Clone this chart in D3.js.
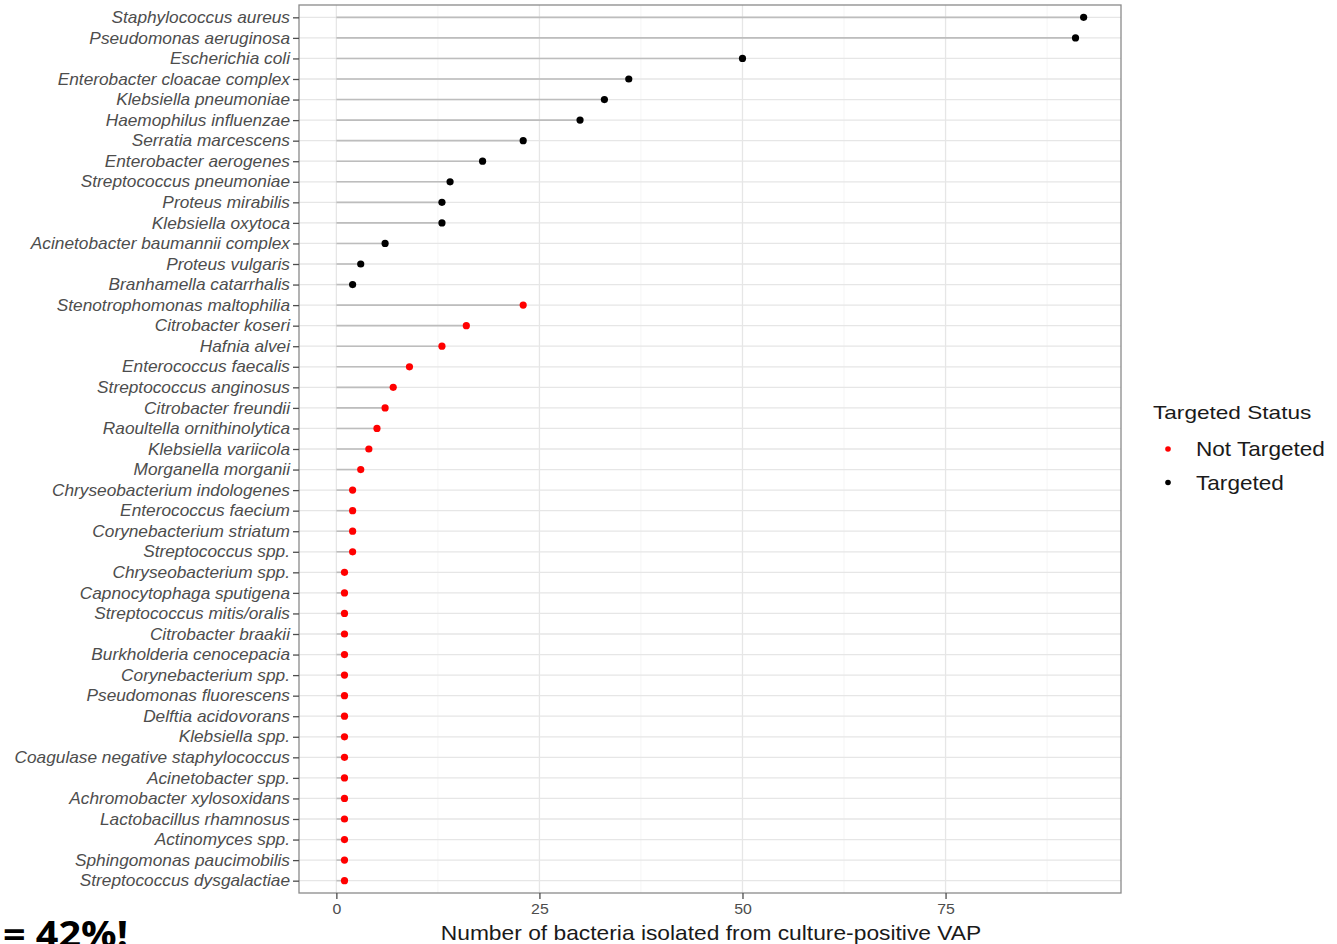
<!DOCTYPE html>
<html>
<head>
<meta charset="utf-8">
<script src="https://cdn.jsdelivr.net/npm/d3@7"></script>
<style>
  html, body { margin: 0; padding: 0; background: #fff; }
  svg { display: block; }
</style>
</head>
<body>
<svg id="chart" width="1337" height="944"></svg>
<script>
// Species, ordered top to bottom
const species = [
  "Staphylococcus aureus", "Pseudomonas aeruginosa", "Escherichia coli",
  "Enterobacter cloacae complex", "Klebsiella pneumoniae", "Haemophilus influenzae",
  "Serratia marcescens", "Enterobacter aerogenes", "Streptococcus pneumoniae",
  "Proteus mirabilis", "Klebsiella oxytoca", "Acinetobacter baumannii complex",
  "Proteus vulgaris", "Branhamella catarrhalis", "Stenotrophomonas maltophilia",
  "Citrobacter koseri", "Hafnia alvei", "Enterococcus faecalis",
  "Streptococcus anginosus", "Citrobacter freundii", "Raoultella ornithinolytica",
  "Klebsiella variicola", "Morganella morganii", "Chryseobacterium indologenes",
  "Enterococcus faecium", "Corynebacterium striatum", "Streptococcus spp.",
  "Chryseobacterium spp.", "Capnocytophaga sputigena", "Streptococcus mitis/oralis",
  "Citrobacter braakii", "Burkholderia cenocepacia", "Corynebacterium spp.",
  "Pseudomonas fluorescens", "Delftia acidovorans", "Klebsiella spp.",
  "Coagulase negative staphylococcus", "Acinetobacter spp.", "Achromobacter xylosoxidans",
  "Lactobacillus rhamnosus", "Actinomyces spp.", "Sphingomonas paucimobilis",
  "Streptococcus dysgalactiae"
];

// Number of isolates per species
const counts = [
  92, 91, 50, 36, 33, 30, 23, 18, 14, 13, 13, 6, 3, 2,
  23, 16, 13, 9, 7, 6, 5, 4, 3, 2, 2, 2, 2,
  1, 1, 1, 1, 1, 1, 1, 1, 1, 1, 1, 1, 1, 1, 1, 1
];

// Targeted status per species
const status = [
  "Targeted", "Targeted", "Targeted", "Targeted", "Targeted", "Targeted", "Targeted",
  "Targeted", "Targeted", "Targeted", "Targeted", "Targeted", "Targeted", "Targeted",
  "Not Targeted", "Not Targeted", "Not Targeted", "Not Targeted", "Not Targeted",
  "Not Targeted", "Not Targeted", "Not Targeted", "Not Targeted", "Not Targeted",
  "Not Targeted", "Not Targeted", "Not Targeted", "Not Targeted", "Not Targeted",
  "Not Targeted", "Not Targeted", "Not Targeted", "Not Targeted", "Not Targeted",
  "Not Targeted", "Not Targeted", "Not Targeted", "Not Targeted", "Not Targeted",
  "Not Targeted", "Not Targeted", "Not Targeted", "Not Targeted"
];

const statusLevels = ["Not Targeted", "Targeted"];
const statusColors = ["#ff0000", "#000000"];
const xTicks = [0, 25, 50, 75];
const xMinorTicks = [12.5, 37.5, 62.5, 87.5];
const xTitle = "Number of bacteria isolated from culture-positive VAP";
const legendTitle = "Targeted Status";
const footnote = "= 42%!";

const rows = species.map((s, i) => ({ name: s, value: counts[i], status: status[i] }));

const svg = d3.select("#chart");
const panel = { left: 299, right: 1121, top: 5, bottom: 893 };
const font = "'Liberation Sans', Arial, Helvetica, sans-serif";

// Widen text horizontally around its anchor point
function stretch(sel, k) {
  sel.attr("transform", function () {
    const ax = +this.getAttribute("x") || 0;
    return `translate(${ax},0) scale(${k},1) translate(${-ax},0)`;
  });
}

const maxVal = d3.max(counts);
const pad = maxVal * 0.05;
const x = d3.scaleLinear().domain([-pad, maxVal + pad]).range([panel.left, panel.right]);
const y = d3.scalePoint().domain(species).range([panel.top, panel.bottom]).padding(0.6);
const color = d3.scaleOrdinal().domain(statusLevels).range(statusColors);

// Grid
const grid = svg.append("g");
grid.selectAll("line.minor").data(xMinorTicks).join("line")
  .attr("x1", d => x(d)).attr("x2", d => x(d))
  .attr("y1", panel.top).attr("y2", panel.bottom)
  .attr("stroke", "#f2f2f2").attr("stroke-width", 0.8);
grid.selectAll("line.majx").data(xTicks).join("line")
  .attr("x1", d => x(d)).attr("x2", d => x(d))
  .attr("y1", panel.top).attr("y2", panel.bottom)
  .attr("stroke", "#e6e6e6").attr("stroke-width", 1.3);
grid.selectAll("line.majy").data(species).join("line")
  .attr("x1", panel.left).attr("x2", panel.right)
  .attr("y1", d => y(d)).attr("y2", d => y(d))
  .attr("stroke", "#e6e6e6").attr("stroke-width", 1.3);

// Lollipop stems
svg.append("g").selectAll("line").data(rows).join("line")
  .attr("x1", x(0)).attr("x2", d => x(d.value))
  .attr("y1", d => y(d.name)).attr("y2", d => y(d.name))
  .attr("stroke", "#bdbdbd").attr("stroke-width", 1.6);

// Points
svg.append("g").selectAll("circle").data(rows).join("circle")
  .attr("cx", d => x(d.value)).attr("cy", d => y(d.name))
  .attr("r", 3.6).attr("fill", d => color(d.status));

// Panel border
svg.append("rect")
  .attr("x", panel.left).attr("y", panel.top)
  .attr("width", panel.right - panel.left).attr("height", panel.bottom - panel.top)
  .attr("fill", "none").attr("stroke", "#8a8a8a").attr("stroke-width", 1.3);

// Y axis
const yAxis = svg.append("g")
  .attr("transform", `translate(${panel.left},0)`)
  .call(d3.axisLeft(y).tickSize(6).tickPadding(3));
yAxis.select(".domain").remove();
yAxis.selectAll(".tick line").attr("stroke", "#4d4d4d").attr("stroke-width", 1.3);
yAxis.selectAll(".tick text")
  .attr("fill", "#4d4d4d").style("font-family", font)
  .style("font-size", "16px").style("font-style", "italic")
  .call(stretch, 1.08);

// X axis
const xAxis = svg.append("g")
  .attr("transform", `translate(0,${panel.bottom})`)
  .call(d3.axisBottom(x).tickValues(xTicks).tickSize(6).tickPadding(4));
xAxis.select(".domain").remove();
xAxis.selectAll(".tick line").attr("stroke", "#4d4d4d").attr("stroke-width", 1.3);
xAxis.selectAll(".tick text")
  .attr("fill", "#4d4d4d").style("font-family", font).style("font-size", "15px")
  .call(stretch, 1.06);

// X title
svg.append("text")
  .attr("x", (panel.left + panel.right) / 2 + 1).attr("y", 940)
  .attr("text-anchor", "middle").attr("fill", "#1a1a1a")
  .style("font-family", font).style("font-size", "20px")
  .text(xTitle)
  .call(stretch, 1.14);

// Legend
const legend = svg.append("g");
legend.append("text")
  .attr("x", 1153).attr("y", 419)
  .attr("fill", "#1a1a1a").style("font-family", font).style("font-size", "19px")
  .text(legendTitle)
  .call(stretch, 1.19);
const li = legend.selectAll("g.item").data(statusLevels).join("g")
  .attr("transform", (d, i) => `translate(0,${449 + i * 33.5})`);
li.append("circle").attr("cx", 1168).attr("cy", 0).attr("r", 2.8).attr("fill", d => color(d));
li.append("text")
  .attr("x", 1196).attr("y", 7)
  .attr("fill", "#1a1a1a").style("font-family", font).style("font-size", "20px")
  .text(d => d)
  .call(stretch, 1.13);

// Footnote
svg.append("text")
  .attr("x", 3).attr("y", 947)
  .attr("fill", "#000").style("font-family", "'Open Sans', 'DejaVu Sans', sans-serif")
  .style("font-size", "35px").style("font-weight", "bold")
  .text(footnote)
  .call(stretch, 1.13);
</script>
</body>
</html>
